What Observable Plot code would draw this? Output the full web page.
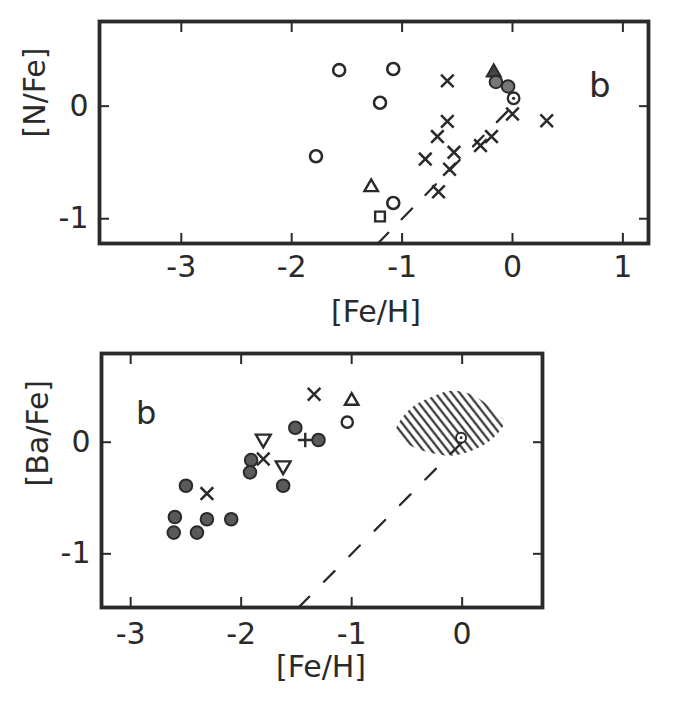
<!DOCTYPE html>
<html><head><meta charset="utf-8">
<script src="https://cdn.jsdelivr.net/npm/d3@7"></script>
<script src="https://cdn.jsdelivr.net/npm/@observablehq/plot@0.6"></script>
<style>
html,body{margin:0;padding:0;background:#fff;}
#wrap{position:relative;width:673px;height:703px;overflow:hidden;background:#fff;}
#top,#bot{position:absolute;left:0;}
#top{top:0;}
#bot{top:340px;}
</style></head><body><div id="wrap"><div id="top"></div><div id="bot"></div></div>
<script>
const ink = "#2a2a2a";
const font = "DejaVu Sans";

// ---------- Top panel: [N/Fe] vs [Fe/H] ----------
const topXTicks = [-3, -2, -1, 0, 1];
const topYTicks = [0, -1];
const topXLabel = "[Fe/H]";
const topYLabel = "[N/Fe]";
const nOpenCircleFeH = [-1.57, -1.08, -1.20, -1.78, -1.08];
const nOpenCircleNFe = [0.32, 0.33, 0.03, -0.445, -0.86];
const nCrossFeH = [-0.59, -0.59, -0.68, -0.79, -0.53, -0.57, -0.67, -0.29, -0.19, 0.0, 0.31];
const nCrossNFe = [0.225, -0.135, -0.27, -0.47, -0.41, -0.56, -0.76, -0.35, -0.27, -0.07, -0.13];
const nTriangleFeH = [-1.28];
const nTriangleNFe = [-0.72];
const nSquareFeH = [-1.20];
const nSquareNFe = [-0.98];
const nFilledTriangleFeH = [-0.17];
const nFilledTriangleNFe = [0.30];
const nGreyCircleFeH = [-0.15, -0.04];
const nGreyCircleNFe = [0.215, 0.175];
const nSunFeH = [0.01];
const nSunNFe = [0.07];
const nDashFeH = [-1.22, 0];
const nDashNFe = [-1.22, 0];
const topPanelLabel = [{x: 0.79, y: 0.077, text: "b"}];

// ---------- Bottom panel: [Ba/Fe] vs [Fe/H] ----------
const botXTicks = [-3, -2, -1, 0];
const botYTicks = [0, -1];
const botXLabel = "[Fe/H]";
const botYLabel = "[Ba/Fe]";
const baFilledFeH = [-1.51, -1.30, -1.91, -1.92, -1.62, -2.50, -2.60, -2.61, -2.31, -2.40, -2.09];
const baFilledBaFe = [0.13, 0.02, -0.16, -0.27, -0.39, -0.39, -0.67, -0.81, -0.69, -0.81, -0.69];
const baCrossFeH = [-1.34, -1.80, -2.31];
const baCrossBaFe = [0.43, -0.15, -0.46];
const baTriUpFeH = [-1.0];
const baTriUpBaFe = [0.37];
const baTriDownFeH = [-1.80, -1.62];
const baTriDownBaFe = [0.03, -0.21];
const baOpenCircleFeH = [-1.04];
const baOpenCircleBaFe = [0.18];
const baPlusFeH = [-1.42];
const baPlusBaFe = [0.02];
const baSunFeH = [-0.01];
const baSunBaFe = [0.04];
const baDashFeH = [-1.48, 0];
const baDashBaFe = [-1.48, 0];
const hatchFeH = [-0.60, -0.47, -0.29, -0.11, 0.10, 0.30, 0.38, 0.26, 0.10, -0.08, -0.26, -0.44, -0.56];
const hatchBaFe = [0.11, 0.30, 0.40, 0.46, 0.42, 0.27, 0.18, 0.02, -0.07, -0.12, -0.10, -0.045, 0.03];
const botPanelLabel = [{x: -2.86, y: 0.165, text: "b"}];

const pts = (xs, ys) => xs.map((x, i) => ({x, y: ys[i]}));
const fmt = d => String(d);

function axes(xTicks, yTicks, padX, padY) {
  return [
    Plot.axisX({ticks: xTicks, anchor: "bottom", tickSize: -10, tickPadding: padX, tickFormat: fmt, label: null, fontSize: 30, strokeWidth: 2}),
    Plot.axisX({ticks: xTicks, anchor: "top", tickSize: -10, tickFormat: () => "", label: null, strokeWidth: 2}),
    Plot.axisY({ticks: yTicks, anchor: "left", tickSize: -10, tickPadding: padY, tickFormat: fmt, label: null, fontSize: 30, strokeWidth: 2}),
    Plot.axisY({ticks: yTicks, anchor: "right", tickSize: -10, tickFormat: () => "", label: null, strokeWidth: 2}),
    Plot.frame({stroke: ink, strokeWidth: 3.8})
  ];
}

const style = {fontFamily: font, background: "white", color: ink, overflow: "visible"};

const topPlot = Plot.plot({
  width: 673, height: 340,
  marginLeft: 99, marginRight: 25, marginTop: 21, marginBottom: 97,
  x: {domain: [-3.741, 1.232]},
  y: {domain: [-1.22, 0.752]},
  style,
  marks: [
    Plot.line(pts(nDashFeH, nDashNFe), {x: "x", y: "y", stroke: ink, strokeWidth: 2.3, strokeDasharray: "15,19"}),
    Plot.dot(pts(nOpenCircleFeH, nOpenCircleNFe), {x: "x", y: "y", r: 6, stroke: ink, strokeWidth: 2.6, fill: "white"}),
    Plot.dot(pts(nCrossFeH, nCrossNFe), {x: "x", y: "y", symbol: "times", r: 5.8, stroke: ink, strokeWidth: 2.5}),
    Plot.dot(pts(nTriangleFeH, nTriangleNFe), {x: "x", y: "y", symbol: "triangle", r: 5, stroke: ink, strokeWidth: 2.4, fill: "white"}),
    Plot.dot(pts(nSquareFeH, nSquareNFe), {x: "x", y: "y", symbol: "square", r: 5.5, stroke: ink, strokeWidth: 2.4, fill: "white"}),
    Plot.dot(pts(nFilledTriangleFeH, nFilledTriangleNFe), {x: "x", y: "y", symbol: "triangle", r: 5.2, stroke: ink, strokeWidth: 2, fill: "#444"}),
    Plot.dot(pts(nGreyCircleFeH, nGreyCircleNFe), {x: "x", y: "y", r: 6.3, stroke: ink, strokeWidth: 2, fill: "#777"}),
    Plot.dot(pts(nSunFeH, nSunNFe), {x: "x", y: "y", r: 5.8, stroke: ink, strokeWidth: 2.3, fill: "white"}),
    Plot.dot(pts(nSunFeH, nSunNFe), {x: "x", y: "y", r: 1.6, fill: ink, stroke: "none"}),
    Plot.text(topPanelLabel, {x: "x", y: "y", text: "text", fontSize: 34, lineAnchor: "bottom", fill: ink}),
    ...axes(topXTicks, topYTicks, 22, 21),
    Plot.text([topXLabel], {frameAnchor: "bottom", dy: 69, dx: 2, fontSize: 30, lineAnchor: "middle", fill: ink}),
    Plot.text([topYLabel], {frameAnchor: "left", dx: -64, dy: 5, rotate: -90, fontSize: 30, lineAnchor: "middle", fill: ink})
  ]
});

const botPlot = Plot.plot({
  width: 673, height: 363,
  marginLeft: 101, marginRight: 131, marginTop: 13, marginBottom: 96,
  x: {domain: [-3.264, 0.727]},
  y: {domain: [-1.481, 0.795]},
  style,
  marks: [
    Plot.line(pts(hatchFeH, hatchBaFe), {x: "x", y: "y", curve: "catmull-rom-closed", fill: "url(#hatchPattern)", stroke: "none"}),
    Plot.line(pts(baDashFeH, baDashBaFe), {x: "x", y: "y", stroke: ink, strokeWidth: 2.3, strokeDasharray: "15,21"}),
    Plot.dot(pts(baFilledFeH, baFilledBaFe), {x: "x", y: "y", r: 6.3, stroke: ink, strokeWidth: 2, fill: "#5a5a5a"}),
    Plot.dot(pts(baCrossFeH, baCrossBaFe), {x: "x", y: "y", symbol: "times", r: 5.8, stroke: ink, strokeWidth: 2.5}),
    Plot.dot(pts(baTriUpFeH, baTriUpBaFe), {x: "x", y: "y", symbol: "triangle", r: 5, stroke: ink, strokeWidth: 2.4, fill: "white"}),
    Plot.dot(pts(baTriDownFeH, baTriDownBaFe), {x: "x", y: "y", symbol: "triangle", rotate: 180, r: 5.5, stroke: ink, strokeWidth: 2.4, fill: "white"}),
    Plot.dot(pts(baOpenCircleFeH, baOpenCircleBaFe), {x: "x", y: "y", r: 5.6, stroke: ink, strokeWidth: 2.4, fill: "white"}),
    Plot.dot(pts(baPlusFeH, baPlusBaFe), {x: "x", y: "y", symbol: "plus", r: 4.8, stroke: ink, strokeWidth: 2.4}),
    Plot.dot(pts(baSunFeH, baSunBaFe), {x: "x", y: "y", r: 5, stroke: ink, strokeWidth: 2, fill: "white"}),
    Plot.dot(pts(baSunFeH, baSunBaFe), {x: "x", y: "y", r: 1.4, fill: ink, stroke: "none"}),
    Plot.text(botPanelLabel, {x: "x", y: "y", text: "text", fontSize: 32, lineAnchor: "bottom", fill: ink}),
    ...axes(botXTicks, botYTicks, 25, 21),
    Plot.text([botXLabel], {frameAnchor: "bottom", dy: 60, dx: -1, fontSize: 30, lineAnchor: "middle", fill: ink}),
    Plot.text([botYLabel], {frameAnchor: "left", dx: -63, dy: 6, rotate: -90, fontSize: 30, lineAnchor: "middle", fill: ink})
  ]
});

// hatch pattern definition for the shaded region
const ns = "http://www.w3.org/2000/svg";
const defs = document.createElementNS(ns, "defs");
defs.innerHTML = `<pattern id="hatchPattern" patternUnits="userSpaceOnUse" width="6.4" height="6.4" patternTransform="rotate(-38)"><line x1="3.2" y1="-1" x2="3.2" y2="7.4" stroke="${ink}" stroke-width="2.1"/></pattern>`;
botPlot.insertBefore(defs, botPlot.firstChild);

document.getElementById("top").appendChild(topPlot);
document.getElementById("bot").appendChild(botPlot);
</script>
</body></html>
